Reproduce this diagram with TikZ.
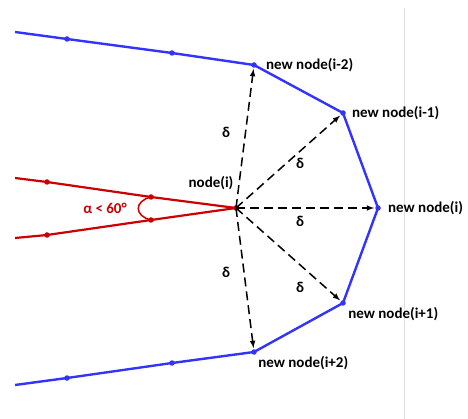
\documentclass[tikz,border=0pt]{standalone}
\usepackage{fontspec}
\setmainfont{Carlito}
\usepackage{xcolor}
\usetikzlibrary{calc, positioning}

\definecolor{lineblue}{RGB}{51,51,255}
\definecolor{linered}{RGB}{204,0,0}

\begin{document}
\begin{tikzpicture}[>=latex, x=1pt, y=-1pt, font=\bfseries\fontsize{15}{18}\selectfont,
    blueline/.style={lineblue, line width=2.4pt, line join=round},
    redline/.style={linered, line width=2.2pt, line join=round},
    offset/.style={->, black, line width=1.5pt, dash pattern=on 9pt off 5pt, shorten >=1pt},
    dot/.style={circle, fill, inner sep=0pt, minimum size=5.5pt}]
    \useasboundingbox (0,0) rectangle (468,419);

    % 1. Đường thẳng xám bên phải
    \draw[black!12, line width=0.8pt] (404,8) -- (404,419);

    % 2. Các nút mới (màu xanh)
    \node[dot, lineblue] (n2) at (254,65) {};
    \node[dot, lineblue] (n1) at (343,113) {};
    \node[dot, lineblue] (n0) at (378,208) {};
    \node[dot, lineblue] (p1) at (343,303) {};
    \node[dot, lineblue] (p2) at (254,352) {};
    \node[dot, lineblue] (a1) at (172,53) {};
    \node[dot, lineblue] (a2) at (67,39) {};
    \node[dot, lineblue] (b1) at (172,363) {};
    \node[dot, lineblue] (b2) at (67,378) {};
    \coordinate (aend) at (15,32);
    \coordinate (bend) at (15,385);
    \draw[blueline] (aend) -- (a2.center) -- (a1.center) -- (n2.center) -- (n1.center)
        -- (n0.center) -- (p1.center) -- (p2.center) -- (b1.center) -- (b2.center) -- (bend);

    \node[right=9pt of n2, inner sep=0pt] {new node(i-2)};
    \node[right=6pt of n1, inner sep=0pt] {new node(i-1)};
    \node[right=7pt of n0, inner sep=0pt] {new node(i)};
    \node[below right=2pt and 3pt of p1, inner sep=0pt] {new node(i+1)};
    \node[below right=2pt and 2pt of p2, inner sep=0pt] {new node(i+2)};

    % 3. Nút cũ (màu đỏ)
    \node[dot, linered] (ni) at (236,208) {};
    \node[dot, linered] (c1) at (151,197) {};
    \node[dot, linered] (c2) at (47,182) {};
    \node[dot, linered] (d1) at (151,220) {};
    \node[dot, linered] (d2) at (47,235) {};
    \coordinate (cend) at (15,178);
    \coordinate (dend) at (15,238);
    \draw[redline] (cend) -- (c2.center) -- (c1.center) -- (ni.center);
    \draw[redline] (dend) -- (d2.center) -- (d1.center) -- (ni.center);
    \draw[linered, line width=1.5pt] (c1.center) .. controls (134,201) and (134,216) .. (d1.center);
    \node[linered] (alpha) at (105,208) {α < 60°};
    \node (lbl) at (211,183) {node(i)};

    % 4. Các mũi tên khoảng cách delta
    \foreach \t in {n2, n1, n0, p1, p2}
        \draw[offset] (ni.center) -- (\t);
    \node at (226,132) {δ};
    \node at (300,163) {δ};
    \node at (300,221) {δ};
    \node at (226,272) {δ};
    \node at (300,287) {δ};

\end{tikzpicture}
\end{document}
